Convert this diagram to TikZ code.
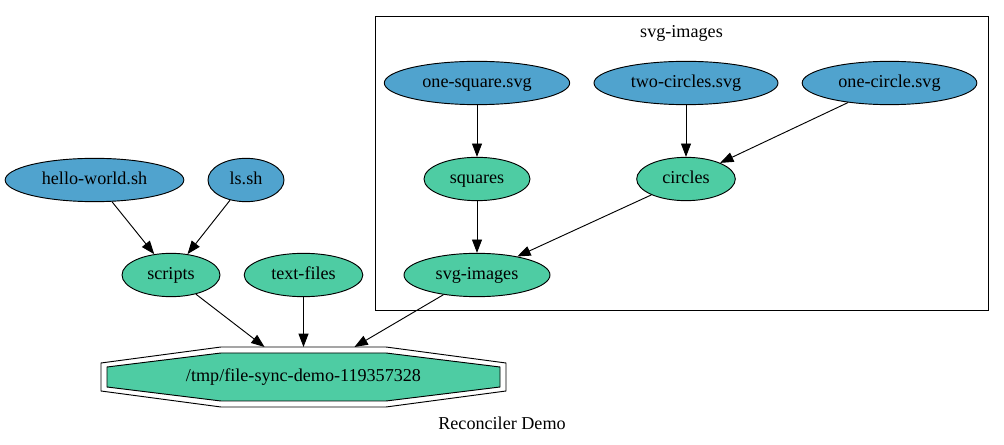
\documentclass[tikz,border=0pt]{standalone}
\usepackage{fontspec}
\setmainfont{Liberation Serif}
\usetikzlibrary{positioning}
\usetikzlibrary{shapes.geometric}
\usetikzlibrary{arrows.meta}
\definecolor{fileblue}{RGB}{80,163,206}
\definecolor{groupgreen}{RGB}{78,204,163}
\tikzset{
	srcfile/.style={draw, ellipse, inner sep=0pt, minimum height=32.5pt, text height=10.4pt, text depth=3pt, fill=fileblue, line width=0.7pt},
	group/.style={draw, ellipse, inner sep=0pt, minimum height=32.5pt, text height=10.4pt, text depth=3pt, fill=groupgreen, line width=0.7pt},
	% destination directory, octagon is drawn by hand
	dest/.style={rectangle, inner sep=0pt, outer sep=0pt, minimum width=303.75pt, minimum height=45pt, text height=10.4pt, text depth=3pt},
}

\begin{document}
\begin{tikzpicture}[x=0.75pt, y=-0.75pt, node distance=72pt, font=\fontsize{13.6}{16}\selectfont]
	\fill[white] (0,0) rectangle (1004,445);
	\useasboundingbox (0,0) rectangle (1004,445);
	
	% cluster
	\draw[line width=0.7pt] (375,16) rectangle (988,310);
	\node (clusterlabel) at (681.5,33) {svg-images};
	
	\node (onesquare) [srcfile, minimum width=139pt] at (477,83) {one-square.svg};
	\node (twocircles) [srcfile, minimum width=138pt] at (686,83) {two-circles.svg};
	\node (onecircle) [srcfile, minimum width=131pt] at (889.5,83) {one-circle.svg};
	\node (squares) [group, minimum width=79.5pt, below of=onesquare] {squares};
	\node (circles) [group, minimum width=74pt, below of=twocircles] {circles};
	\node (svgimages) [group, minimum width=109.5pt, below of=squares] {svg-images};
	
	\node (helloworld) [srcfile, minimum width=134pt] at (94.5,180) {hello-world.sh};
	\node (lssh) [srcfile, minimum width=57pt] at (246,180) {ls.sh};
	\node (scripts) [group, minimum width=73.5pt] at (171,275) {scripts};
	\node (textfiles) [group, minimum width=89pt] at (303.5,275) {text-files};
	
	%\node (dest) [draw, regular polygon, regular polygon sides=8] {};
	\draw[line width=0.7pt] (101,363) -- (221,347) -- (386,347) -- (506,363) -- (506,391) -- (386,407) -- (221,407) -- (101,391) -- cycle;
	\draw[line width=0.7pt, fill=groupgreen] (107,367) -- (221,353) -- (386,353) -- (500,367) -- (500,387) -- (386,401) -- (221,401) -- (107,387) -- cycle;
	\node (dest) [dest, below of=textfiles, yshift=-4.5pt] {/tmp/file-sync-demo-119357328};
	
	\node (caption) at (502,423) {Reconciler Demo};
	
	\begin{scope}[line width=0.7pt, black, ->, >={Triangle[length=10pt, width=7.5pt]}]
		\draw (onesquare) -- (squares);
		\draw (twocircles) -- (circles);
		\draw (onecircle) -- (circles);
		\draw (squares) -- (svgimages);
		\draw (circles) -- (svgimages);
		
		\draw (helloworld) -- (scripts);
		\draw (lssh) -- (scripts);
		
		\draw (scripts) -- (dest);
		\draw (textfiles) -- (dest);
		\draw (svgimages) -- (dest);
	\end{scope}
	
\end{tikzpicture}
\end{document}
